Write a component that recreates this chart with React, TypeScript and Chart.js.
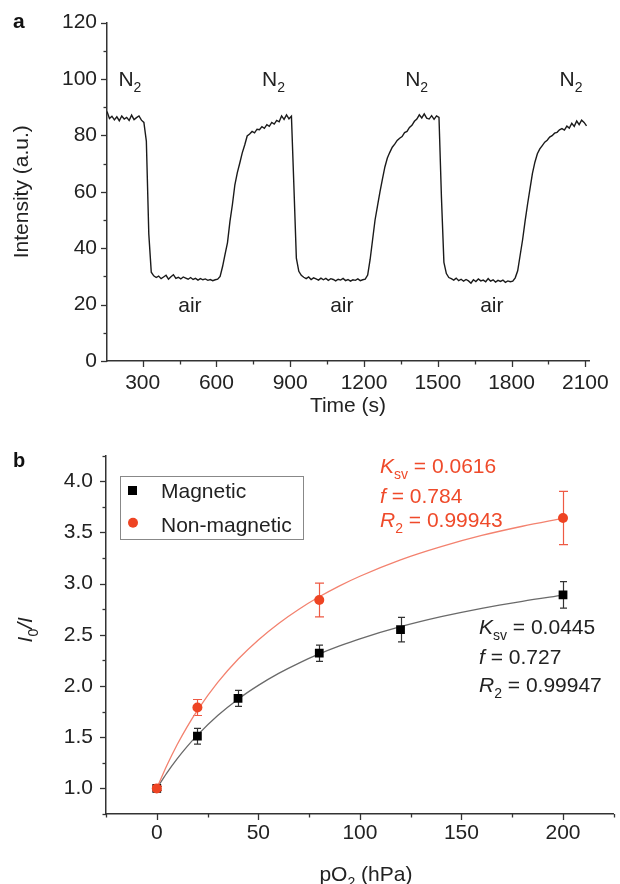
import React, { useEffect, useRef } from 'react';
import { Chart, registerables } from 'chart.js';

Chart.register(...registerables);

const FONT = '"Liberation Sans", Arial, Helvetica, sans-serif';
const INK = '#222222';
const AXIS = '#333333';
const RED = '#ee4423';
const RED_TEXT = '#ef4a2a';
const RED_FIT = '#f3826f';
const GRAY_FIT = '#6a6a6a';

// ---------- Panel a : intensity trace ----------
const TIME_START = 155; // s
const TIME_STEP = 10; // s
const INTENSITY = [
  // N2 (155-305)
  88.5, 86.0, 86.8, 85.5, 86.6, 85.2, 86.9, 85.8, 86.4, 85.3,
  87.2, 85.6, 86.3, 86.9, 85.4, 84.6,
  // drop (315-345)
  78.0, 45.0, 31.5, 30.2,
  // air (355-605)
  29.6, 30.1, 29.2, 29.8, 30.4, 29.0, 29.9, 30.6, 29.3, 29.7,
  29.1, 29.8, 29.4, 29.0, 29.6, 28.9, 29.3, 28.7, 29.2, 28.8,
  29.1, 28.6, 28.9, 28.5, 28.8, 29.0,
  // N2 rise (615-905)
  30.0, 33.5, 37.8, 42.0, 49.5, 55.5, 62.5, 66.8, 70.2, 73.8,
  76.6, 79.8, 80.5, 81.4, 80.9, 82.2, 82.0, 83.1, 82.5, 83.8,
  83.2, 84.6, 84.0, 85.3, 84.8, 86.9, 85.7, 87.3, 85.9, 86.8,
  // drop (915-945)
  62.0, 36.5, 31.8, 30.4,
  // air (955-1205)
  29.7, 29.2, 29.8, 28.9, 29.5, 29.1, 28.7, 29.4, 28.8, 29.3,
  28.6, 29.2, 28.9, 28.4, 29.0, 28.7, 29.3, 28.5, 28.9, 28.3,
  28.8, 28.6, 29.1, 28.5, 28.8, 29.0,
  // N2 rise (1215-1505)
  30.5, 36.0, 43.0, 50.0, 55.0, 60.0, 64.5, 68.8, 72.0, 74.0,
  75.8, 76.9, 78.2, 79.0, 79.6, 81.0, 81.4, 82.8, 83.6, 85.0,
  85.8, 87.3, 86.2, 87.6, 86.1, 85.8, 87.0, 85.7, 86.9, 86.4,
  // drop (1515-1545)
  58.0, 35.0, 31.0, 29.6,
  // air (1555-1805)
  29.2, 28.7, 29.4, 28.5, 29.0, 28.3, 28.9, 28.4, 27.6, 28.8,
  28.2, 29.1, 28.4, 28.7, 28.1, 29.2, 28.3, 28.8, 28.0, 28.6,
  28.2, 28.7, 27.9, 28.4, 28.1, 28.3,
  // N2 rise (1815-2105)
  29.5, 32.0, 37.5, 43.0, 49.5, 55.5, 61.0, 66.5, 70.5, 73.5,
  75.2, 76.4, 77.6, 78.3, 79.4, 79.9, 80.8, 81.1, 82.0, 82.4,
  81.9, 83.3, 82.6, 84.3, 83.2, 85.1, 83.8, 85.4, 84.6, 83.4,
];
const TIME_MAJOR = [300, 600, 900, 1200, 1500, 1800, 2100];
const TIME_MINOR = [450, 750, 1050, 1350, 1650, 1950];
const INT_MAJOR = [0, 20, 40, 60, 80, 100, 120];
const INT_MINOR = [10, 30, 50, 70, 90, 110];
const N2_LABEL_TIMES = [248, 832, 1414, 2042];
const AIR_LABEL_TIMES = [492, 1110, 1720];

// ---------- Panel b : Stern-Volmer ----------
const MAG_P = [0, 20, 40, 80, 120, 200];
const MAG = [1.0, 1.51, 1.88, 2.32, 2.55, 2.89];
const MAG_ERR = [0.02, 0.077, 0.078, 0.08, 0.12, 0.13];
const NONMAG_P = [0, 20, 80, 200];
const NONMAG = [1.0, 1.79, 2.84, 3.64];
const NONMAG_ERR = [0.02, 0.078, 0.165, 0.26];
const FIT_P = [0, 5, 10, 15, 20, 30, 40, 50, 60, 70, 80, 90, 100, 120, 140, 160, 180, 200];
const FIT_MAG = [1.0, 1.152, 1.288, 1.41, 1.52, 1.711, 1.871, 2.006, 2.123, 2.224, 2.313, 2.391, 2.461, 2.579, 2.677, 2.759, 2.827, 2.887];
const FIT_NONMAG = [1.0, 1.226, 1.426, 1.604, 1.763, 2.035, 2.261, 2.45, 2.611, 2.75, 2.871, 2.978, 3.072, 3.232, 3.361, 3.47, 3.56, 3.638];
const P_MAJOR = [0, 50, 100, 150, 200];
const P_MINOR = [-25, 25, 75, 125, 175, 225];
const R_MAJOR = [1.0, 1.5, 2.0, 2.5, 3.0, 3.5, 4.0];
const R_MINOR = [0.75, 1.25, 1.75, 2.25, 2.75, 3.25, 3.75, 4.25];

type Seg = { t: string; italic?: boolean; sub?: boolean; bold?: boolean };

function drawRich(ctx: CanvasRenderingContext2D, segs: Seg[], x: number, y: number, size: number, color: string, align: 'left' | 'center') {
  const subSize = Math.round(size * 0.68);
  const fontFor = (s: Seg) => `${s.italic ? 'italic ' : ''}${s.bold ? 'bold ' : ''}${s.sub ? subSize : size}px ${FONT}`;
  let w = 0;
  for (const s of segs) {
    ctx.font = fontFor(s);
    w += ctx.measureText(s.t).width;
  }
  let cx = align === 'center' ? x - w / 2 : x;
  ctx.fillStyle = color;
  ctx.textAlign = 'left';
  ctx.textBaseline = 'alphabetic';
  for (const s of segs) {
    ctx.font = fontFor(s);
    ctx.fillText(s.t, cx, y + (s.sub ? size * 0.3 : 0));
    cx += ctx.measureText(s.t).width;
  }
}

function drawTicks(chart: any, id: string, major: number[], minor: number[]) {
  const s = chart.scales[id];
  const ca = chart.chartArea;
  const ctx: CanvasRenderingContext2D = chart.ctx;
  ctx.save();
  ctx.strokeStyle = AXIS;
  ctx.lineWidth = 1.3;
  const one = (v: number, len: number) => {
    const p = Math.round(s.getPixelForValue(v)) + 0.5;
    ctx.beginPath();
    if (s.isHorizontal()) {
      ctx.moveTo(p, ca.bottom);
      ctx.lineTo(p, ca.bottom + len);
    } else {
      ctx.moveTo(ca.left, p);
      ctx.lineTo(ca.left - len, p);
    }
    ctx.stroke();
  };
  major.forEach((v) => one(v, 6));
  minor.forEach((v) => one(v, 3.5));
  ctx.restore();
}

function drawErrorBars(chart: any, xs: number[], ys: number[], errs: number[], color: string, cap: number) {
  const xS = chart.scales.x;
  const yS = chart.scales.y;
  const ctx: CanvasRenderingContext2D = chart.ctx;
  ctx.save();
  ctx.strokeStyle = color;
  ctx.lineWidth = 1.2;
  xs.forEach((xv, i) => {
    const px = Math.round(xS.getPixelForValue(xv)) + 0.5;
    const top = yS.getPixelForValue(ys[i] + errs[i]);
    const bot = yS.getPixelForValue(ys[i] - errs[i]);
    ctx.beginPath();
    ctx.moveTo(px, top);
    ctx.lineTo(px, bot);
    ctx.moveTo(px - cap / 2, top);
    ctx.lineTo(px + cap / 2, top);
    ctx.moveTo(px - cap / 2, bot);
    ctx.lineTo(px + cap / 2, bot);
    ctx.stroke();
  });
  ctx.restore();
}

function axisCommon(major: number[], fmt: (v: number) => string, size: number, padding: number) {
  return {
    type: 'linear' as const,
    afterBuildTicks: (axis: any) => {
      axis.ticks = major.map((v) => ({ value: v }));
    },
    ticks: {
      callback: (v: any) => fmt(Number(v)),
      font: { size, family: FONT },
      color: INK,
      padding,
      autoSkip: false,
      maxRotation: 0,
    },
    grid: { display: false, drawTicks: false },
    border: { display: true, color: AXIS, width: 1.5 },
  };
}

export default function App() {
  const topRef = useRef<HTMLCanvasElement | null>(null);
  const botRef = useRef<HTMLCanvasElement | null>(null);

  useEffect(() => {
    const topData = INTENSITY.map((v, i) => ({ x: TIME_START + i * TIME_STEP, y: v }));

    const topChart = new Chart(topRef.current as HTMLCanvasElement, {
      type: 'scatter',
      data: {
        datasets: [
          {
            data: topData,
            showLine: true,
            borderColor: '#1a1a1a',
            borderWidth: 1.4,
            pointRadius: 0,
            tension: 0,
          },
        ],
      },
      options: {
        animation: false,
        responsive: false,
        devicePixelRatio: 1,
        layout: { padding: { top: 21, right: 31, left: 0, bottom: 0 } },
        plugins: { legend: { display: false }, tooltip: { enabled: false } },
        scales: {
          x: {
            ...axisCommon(TIME_MAJOR, (v) => String(v), 21, 10),
            min: 155,
            max: 2115,
            afterFit: (s: any) => {
              s.height = 64;
            },
          },
          y: {
            ...axisCommon(INT_MAJOR, (v) => String(v), 21, 10),
            min: 0,
            max: 120,
            afterFit: (s: any) => {
              s.width = 107;
            },
          },
        },
      },
      plugins: [
        {
          id: 'panelA',
          afterDraw(chart: any) {
            const ctx: CanvasRenderingContext2D = chart.ctx;
            const xs = chart.scales.x;
            const ys = chart.scales.y;
            drawTicks(chart, 'x', TIME_MAJOR, TIME_MINOR);
            drawTicks(chart, 'y', INT_MAJOR, INT_MINOR);
            ctx.save();
            N2_LABEL_TIMES.forEach((t) => {
              drawRich(ctx, [{ t: 'N' }, { t: '2', sub: true }], xs.getPixelForValue(t), ys.getPixelForValue(100) + 7, 21, INK, 'center');
            });
            AIR_LABEL_TIMES.forEach((t) => {
              drawRich(ctx, [{ t: 'air' }], xs.getPixelForValue(t), ys.getPixelForValue(20) + 7, 21, INK, 'center');
            });
            // axis titles
            const ca = chart.chartArea;
            drawRich(ctx, [{ t: 'Time (s)' }], (ca.left + ca.right) / 2, 412, 21, INK, 'center');
            ctx.save();
            ctx.translate(28, (ca.top + ca.bottom) / 2);
            ctx.rotate(-Math.PI / 2);
            drawRich(ctx, [{ t: 'Intensity (a.u.)' }], 0, 0, 21, INK, 'center');
            ctx.restore();
            drawRich(ctx, [{ t: 'a', bold: true }], 13, 28, 21, '#111', 'left');
            ctx.restore();
          },
        },
      ],
    } as any);

    const OFF = 430;
    const botChart = new Chart(botRef.current as HTMLCanvasElement, {
      type: 'scatter',
      data: {
        datasets: [
          {
            type: 'line',
            data: FIT_P.map((p, i) => ({ x: p, y: FIT_MAG[i] })),
            borderColor: GRAY_FIT,
            borderWidth: 1.3,
            pointRadius: 0,
            cubicInterpolationMode: 'monotone',
            fill: false,
            order: 4,
          },
          {
            type: 'line',
            data: FIT_P.map((p, i) => ({ x: p, y: FIT_NONMAG[i] })),
            borderColor: RED_FIT,
            borderWidth: 1.3,
            pointRadius: 0,
            cubicInterpolationMode: 'monotone',
            fill: false,
            order: 3,
          },
          {
            data: MAG_P.map((p, i) => ({ x: p, y: MAG[i] })),
            pointStyle: 'rect',
            pointRadius: 6.2,
            backgroundColor: '#000000',
            borderWidth: 0,
            order: 2,
          },
          {
            data: NONMAG_P.map((p, i) => ({ x: p, y: NONMAG[i] })),
            pointStyle: 'circle',
            pointRadius: 5,
            backgroundColor: RED,
            borderWidth: 0,
            order: 1,
          },
        ],
      },
      options: {
        animation: false,
        responsive: false,
        devicePixelRatio: 1,
        layout: { padding: { top: 20, right: 2, left: 0, bottom: 0 } },
        plugins: { legend: { display: false }, tooltip: { enabled: false } },
        scales: {
          x: {
            ...axisCommon(P_MAJOR, (v) => String(v), 21, 7),
            min: -25,
            max: 225,
            afterFit: (s: any) => {
              s.height = 70;
            },
          },
          y: {
            ...axisCommon(R_MAJOR, (v) => v.toFixed(1), 21, 13),
            min: 0.75,
            max: 4.25,
            afterFit: (s: any) => {
              s.width = 106;
            },
          },
        },
      },
      plugins: [
        {
          id: 'panelB',
          beforeDatasetsDraw(chart: any) {
            drawErrorBars(chart, MAG_P, MAG, MAG_ERR, '#333333', 7);
            drawErrorBars(chart, NONMAG_P, NONMAG, NONMAG_ERR, '#ee5a44', 9);
          },
          afterDraw(chart: any) {
            const ctx: CanvasRenderingContext2D = chart.ctx;
            const ca = chart.chartArea;
            drawTicks(chart, 'x', P_MAJOR, P_MINOR);
            drawTicks(chart, 'y', R_MAJOR, R_MINOR);
            ctx.save();
            // legend box
            ctx.strokeStyle = '#888888';
            ctx.lineWidth = 1;
            ctx.strokeRect(120.5, 476.5 - OFF, 183, 63);
            ctx.fillStyle = '#000000';
            ctx.fillRect(128, 486 - OFF, 9, 9);
            ctx.fillStyle = RED;
            ctx.beginPath();
            ctx.arc(133, 522.7 - OFF, 5, 0, Math.PI * 2);
            ctx.fill();
            drawRich(ctx, [{ t: 'Magnetic' }], 161, 498 - OFF, 21, INK, 'left');
            drawRich(ctx, [{ t: 'Non-magnetic' }], 161, 531.5 - OFF, 21, INK, 'left');
            // red stats
            drawRich(ctx, [{ t: 'K', italic: true }, { t: 'sv', sub: true }, { t: ' = 0.0616' }], 380, 473 - OFF, 21, RED_TEXT, 'left');
            drawRich(ctx, [{ t: 'f', italic: true }, { t: ' = 0.784' }], 380, 503 - OFF, 21, RED_TEXT, 'left');
            drawRich(ctx, [{ t: 'R', italic: true }, { t: '2', sub: true }, { t: ' = 0.99943' }], 380, 527 - OFF, 21, RED_TEXT, 'left');
            // black stats
            drawRich(ctx, [{ t: 'K', italic: true }, { t: 'sv', sub: true }, { t: ' = 0.0445' }], 479, 634 - OFF, 21, INK, 'left');
            drawRich(ctx, [{ t: 'f', italic: true }, { t: ' = 0.727' }], 479, 664 - OFF, 21, INK, 'left');
            drawRich(ctx, [{ t: 'R', italic: true }, { t: '2', sub: true }, { t: ' = 0.99947' }], 479, 692 - OFF, 21, INK, 'left');
            // axis titles
            drawRich(ctx, [{ t: 'pO' }, { t: '2', sub: true }, { t: ' (hPa)' }], (ca.left + ca.right) / 2 + 6, 881 - OFF, 21, INK, 'center');
            ctx.save();
            ctx.translate(32, (ca.top + ca.bottom) / 2 - 5);
            ctx.rotate(-Math.PI / 2);
            drawRich(ctx, [{ t: 'I', italic: true }, { t: '0', sub: true }, { t: '/', italic: true }, { t: 'I', italic: true }], 0, 0, 21, INK, 'center');
            ctx.restore();
            drawRich(ctx, [{ t: 'b', bold: true }], 13, 467 - OFF, 20, '#111', 'left');
            ctx.restore();
          },
        },
      ],
    } as any);

    return () => {
      topChart.destroy();
      botChart.destroy();
    };
  }, []);

  return (
    <div style={{ position: 'fixed', left: 0, top: 0, width: 620, height: 884, background: '#ffffff', overflow: 'hidden' }}>
      <canvas ref={topRef} width={620} height={425} style={{ position: 'absolute', left: 0, top: 0, width: 620, height: 425 }} />
      <canvas ref={botRef} width={620} height={454} style={{ position: 'absolute', left: 0, top: 430, width: 620, height: 454 }} />
    </div>
  );
}
